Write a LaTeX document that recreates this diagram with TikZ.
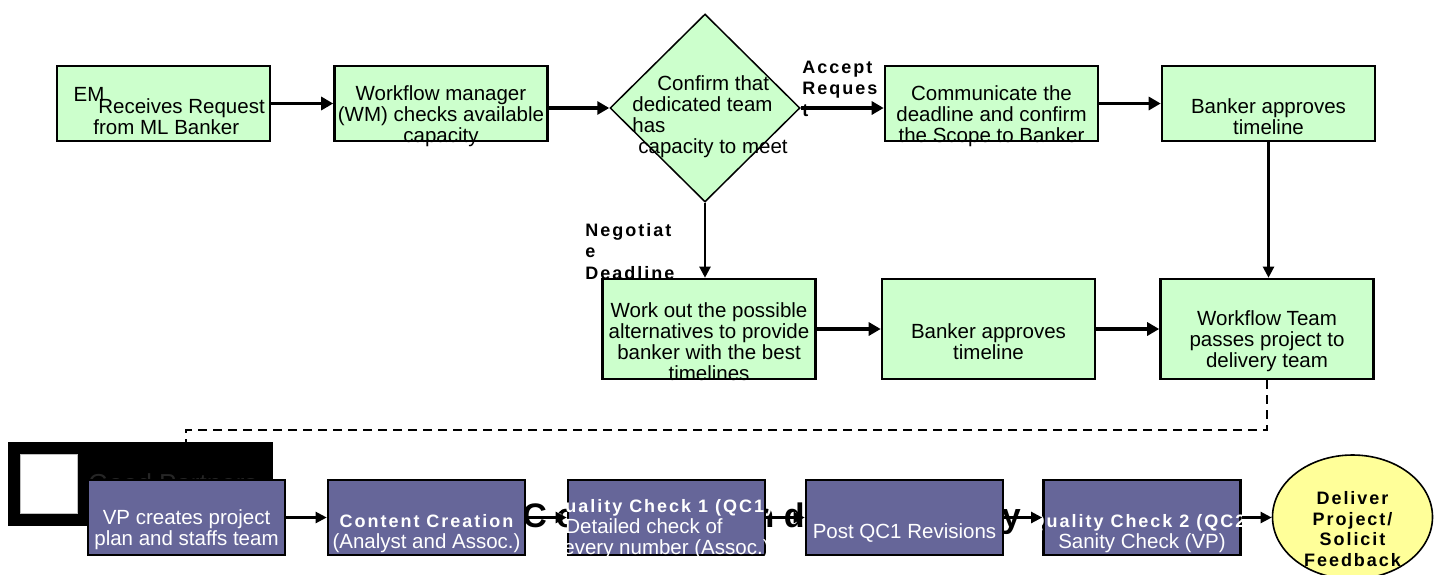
\documentclass[tikz,border=0pt]{standalone}
\usepackage{fontspec}
\setmainfont{Liberation Sans}
\newfontfamily\spacedfont{Liberation Sans}[LetterSpace=11]
\newfontfamily\titlefont{Liberation Sans}[LetterSpace=27.4]
\usetikzlibrary{shapes.geometric,arrows.meta}
\definecolor{stepgreen}{RGB}{204,255,204}
\definecolor{qcpurple}{RGB}{102,102,153}
\definecolor{endyellow}{RGB}{255,255,153}
\newcommand{\boxhead}[1]{{\spacedfont\bfseries\fontsize{9}{10.5}\selectfont #1}}

\begin{document}
\begin{tikzpicture}[x=0.5pt,y=-0.5pt,
  greenbox/.style={draw,line width=1.3pt,fill=stepgreen,minimum width=106.5pt,inner sep=0pt},
  purplebox/.style={draw,line width=1.3pt,fill=qcpurple,minimum width=98.5pt,minimum height=37.5pt,inner sep=0pt},
  txt/.style={align=center,inner sep=0pt,font=\fontsize{10.25}{10.5}\selectfont},
  wtxt/.style={txt,text=white},
  lbl/.style={align=left,inner sep=0pt,anchor=west,font=\spacedfont\bfseries\fontsize{9}{10.75}\selectfont},
  flow/.style={-{Triangle[length=6pt,width=6.5pt]},line width=1.6pt},
  thinflow/.style={-{Triangle[length=5.5pt,width=5.5pt]},line width=1.1pt},
]
\useasboundingbox (0,0) rectangle (1434,574);

% request handling
\node[greenbox,minimum height=37.5pt] (b1) at (163.5,103.5) {};
\node[greenbox,minimum height=37.5pt] (b2) at (441,103.5) {};
\node[diamond,draw,line width=0.75pt,fill=stepgreen,minimum width=95pt,minimum height=94pt,inner sep=0pt] (dec) at (705,108) {};
\node[greenbox,minimum height=37.5pt] (b3) at (991.5,103.5) {};
\node[greenbox,minimum height=37.5pt] (b4) at (1268.5,103.5) {};
\node[greenbox,minimum height=50pt] (b5) at (709,329) {};
\node[greenbox,minimum height=50pt] (b6) at (988.5,329) {};
\node[greenbox,minimum height=50pt] (b7) at (1267,329) {};

\node[txt] (em) at (89,94) {EM};
\node[txt,align=left,anchor=west] (t1) at (93,116.5) {\hspace*{2.5pt}Receives Request\\from ML Banker};
\node[txt] (t2) at (441,116) {Workflow manager\\(WM) checks available\\capacity};
\node[txt,align=left,anchor=west] (tdec) at (632,116.5) {\hspace*{12.5pt}Confirm that\\dedicated team\\has\\\hspace*{3pt}capacity to meet};
\node[txt] (t3) at (991.5,116) {Communicate the\\deadline and confirm\\the Scope to Banker};
\node[txt] (t4) at (1268.5,116.5) {Banker approves\\timeline};
\node[txt] (t5) at (709,341.5) {Work out the possible\\alternatives to provide\\banker with the best\\timelines};
\node[txt] (t6) at (988.5,342) {Banker approves\\timeline};
\node[txt] (t7) at (1267,341) {Workflow Team\\passes project to\\delivery team};

\node[lbl] (acc) at (802,88.5) {Accept\\Reques\\t};
\node[lbl] (neg) at (585,251.5) {Negotiat\\e\\Deadline};

% delivery
\node[fill=black,minimum width=132.5pt,minimum height=42pt,inner sep=0pt] (legend) at (140.5,484) {};
\node[fill=white,draw=black!25,minimum width=28.5pt,minimum height=29.5pt,inner sep=0pt] (swatch) at (48.5,483.5) {};
\node[anchor=base west,inner sep=0pt,text=black!85,font=\fontsize{13}{15}\selectfont] (legendtxt) at (88,492) {Good Partners};
\node[anchor=base west,inner sep=0pt,font=\titlefont\bfseries\fontsize{17}{20}\selectfont] (title) at (522,527) {Content and Delivery};

\coordinate (bend) at (186,430);
\draw[line width=1.4pt,dash pattern=on 4.5pt off 3pt] (b7.south) |- (bend) -- (legend.north -| bend);

\node[purplebox] (b8) at (186.5,517.5) {};
\node[purplebox] (b9) at (426.5,517.5) {};
\node[purplebox] (b10) at (666.5,517.5) {};
\node[purplebox] (b11) at (904.5,517.5) {};
\node[purplebox] (b12) at (1142,517.5) {};
\node[ellipse,draw,line width=0.8pt,fill=endyellow,minimum width=80pt,minimum height=62pt,inner sep=0pt] (deliver) at (1352.5,517) {};

\node[wtxt] (t8) at (186.5,529.5) {VP creates project\\plan and staffs team};
\node[wtxt] (t9) at (426.5,534) {\boxhead{Content Creation}\\(Analyst and Assoc.)};
\node[wtxt,align=left,anchor=west] (t10) at (563,529) {\hspace*{-7pt}\boxhead{Quality Check 1 (QC1)}\\\hspace*{1pt}Detailed check of\\every number (Assoc.)};
\node[wtxt] (t11) at (904.5,533) {Post QC1 Revisions};
\node[wtxt] (t12) at (1142,534) {\boxhead{Quality Check 2 (QC2)}\\Sanity Check (VP)};
\node[align=center,inner sep=0pt,font=\spacedfont\bfseries\fontsize{9}{10.35}\selectfont] (tdel) at (1352.5,529) {Deliver\\Project/\\Solicit\\Feedback};

% connectors
\draw[flow] (b1) -- (b2);
\draw[flow] (b2.east |- dec.west) -- (dec.west);
\draw[flow] (dec.east) -- (dec.east -| b3.west);
\draw[flow] (b3) -- (b4);
\draw[thinflow] (dec.south) -- (dec.south |- b5.north);
\draw[thinflow] (b4.south) -- (b4.south |- b7.north);
\draw[flow] (b5) -- (b6);
\draw[flow] (b6) -- (b7);
\draw[thinflow] (b8) -- (b9);
\draw[thinflow] (b9) -- (b10);
\draw[thinflow] (b10) -- (b11);
\draw[thinflow] (b11) -- (b12);
\draw[thinflow] (b12.east) -- (b12.east -| deliver.west);
\end{tikzpicture}
\end{document}
